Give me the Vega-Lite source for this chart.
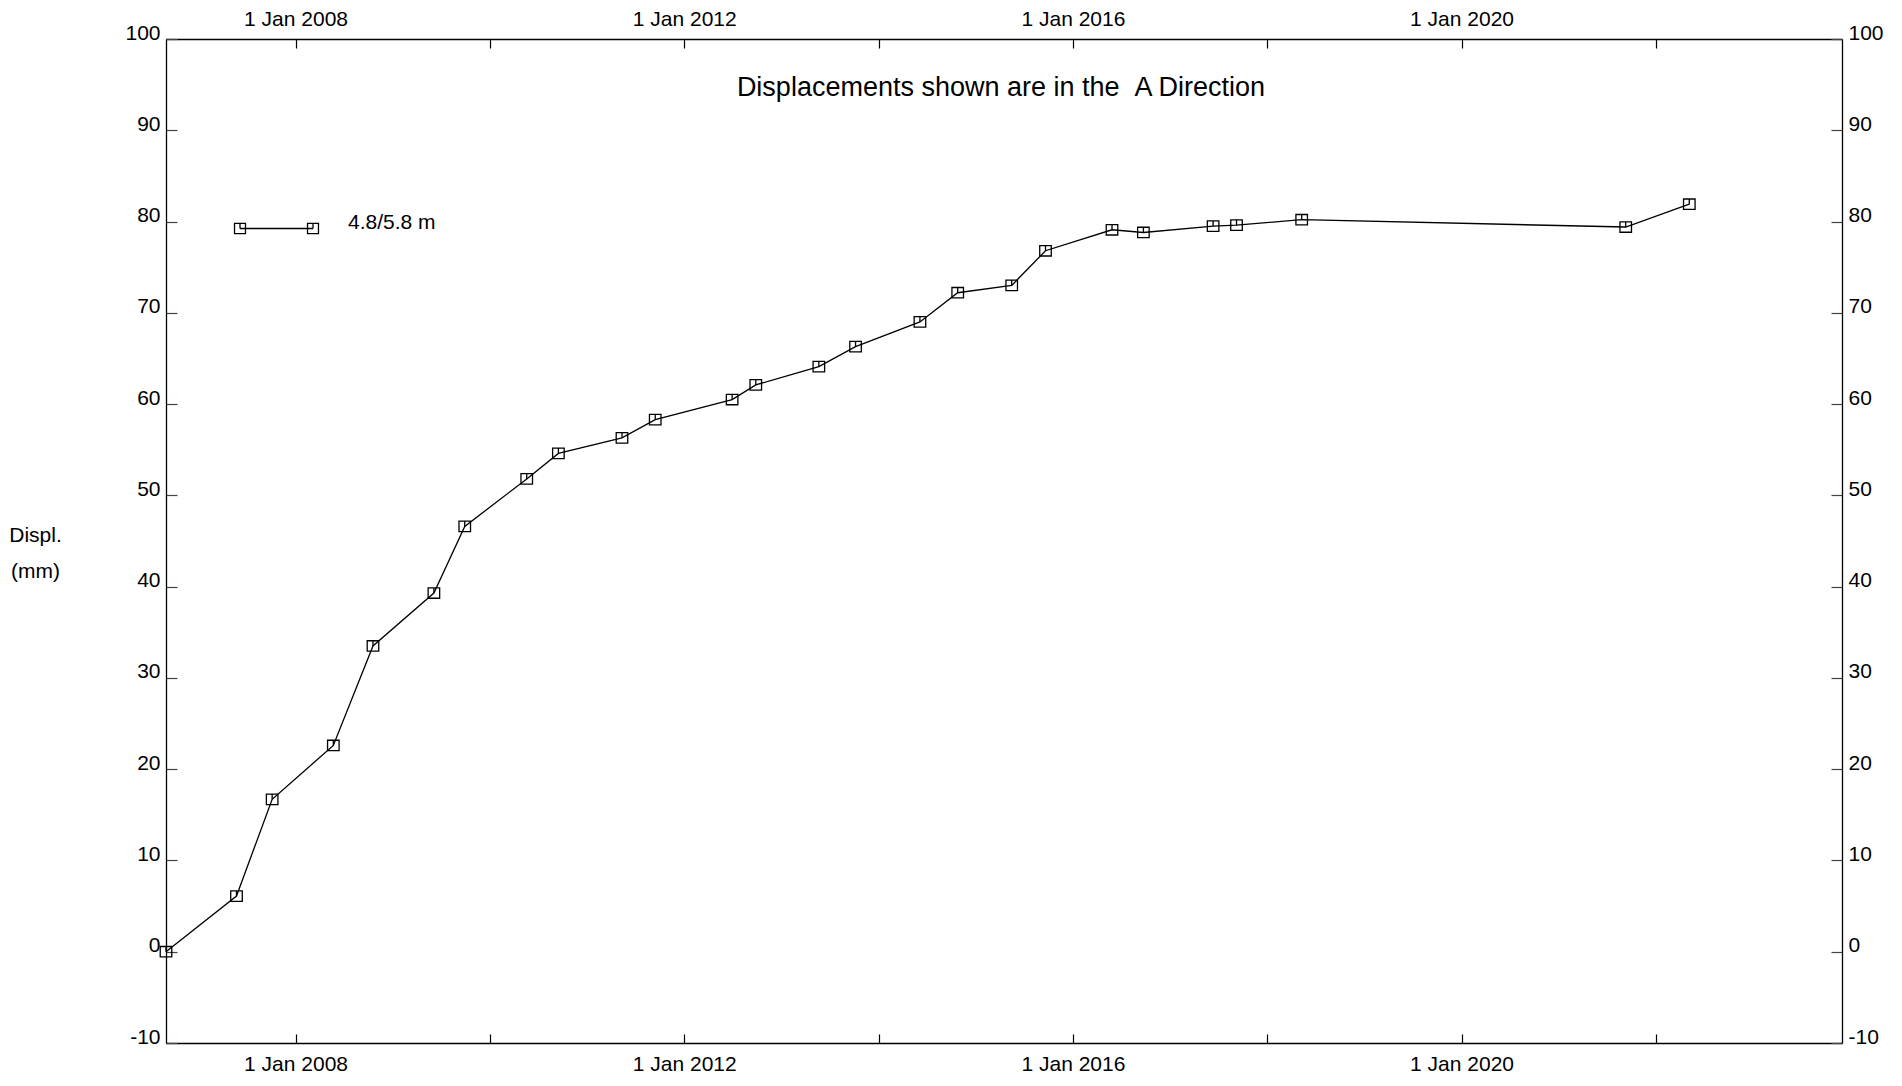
{
  "$schema": "https://vega.github.io/schema/vega-lite/v6.json",
  "width": 1676,
  "height": 1004,
  "autosize": {"type": "none"},
  "padding": {"left": 166, "top": 39, "right": 60, "bottom": 43},
  "background": "white",
  "title": {
    "text": "Displacements shown are in the \u00a0A Direction",
    "fontSize": 27,
    "font": "Liberation Sans",
    "fontWeight": "normal",
    "color": "black",
    "anchor": "middle",
    "baseline": "alphabetic",
    "offset": -115,
    "dx": -3
  },
  "data": {
    "values": [
      {"date": "2006-09-01", "disp": 0.0, "series": "4.8/5.8 m"},
      {"date": "2007-05-24", "disp": 6.1, "series": "4.8/5.8 m"},
      {"date": "2007-10-05", "disp": 16.7, "series": "4.8/5.8 m"},
      {"date": "2008-05-22", "disp": 22.6, "series": "4.8/5.8 m"},
      {"date": "2008-10-18", "disp": 33.5, "series": "4.8/5.8 m"},
      {"date": "2009-06-04", "disp": 39.3, "series": "4.8/5.8 m"},
      {"date": "2009-09-28", "disp": 46.6, "series": "4.8/5.8 m"},
      {"date": "2010-05-19", "disp": 51.8, "series": "4.8/5.8 m"},
      {"date": "2010-09-15", "disp": 54.6, "series": "4.8/5.8 m"},
      {"date": "2011-05-12", "disp": 56.3, "series": "4.8/5.8 m"},
      {"date": "2011-09-14", "disp": 58.3, "series": "4.8/5.8 m"},
      {"date": "2012-06-29", "disp": 60.5, "series": "4.8/5.8 m"},
      {"date": "2012-09-26", "disp": 62.1, "series": "4.8/5.8 m"},
      {"date": "2013-05-21", "disp": 64.1, "series": "4.8/5.8 m"},
      {"date": "2013-10-06", "disp": 66.3, "series": "4.8/5.8 m"},
      {"date": "2014-06-05", "disp": 69.0, "series": "4.8/5.8 m"},
      {"date": "2014-10-25", "disp": 72.2, "series": "4.8/5.8 m"},
      {"date": "2015-05-16", "disp": 73.0, "series": "4.8/5.8 m"},
      {"date": "2015-09-20", "disp": 76.8, "series": "4.8/5.8 m"},
      {"date": "2016-05-27", "disp": 79.1, "series": "4.8/5.8 m"},
      {"date": "2016-09-22", "disp": 78.8, "series": "4.8/5.8 m"},
      {"date": "2017-06-11", "disp": 79.5, "series": "4.8/5.8 m"},
      {"date": "2017-09-07", "disp": 79.6, "series": "4.8/5.8 m"},
      {"date": "2018-05-10", "disp": 80.2, "series": "4.8/5.8 m"},
      {"date": "2021-09-09", "disp": 79.4, "series": "4.8/5.8 m"},
      {"date": "2022-05-06", "disp": 81.9, "series": "4.8/5.8 m"}
    ]
  },
  "layer": [
    {
      "mark": {"type": "line", "color": "black", "strokeWidth": 1.3},
      "encoding": {
        "x": {
          "field": "date",
          "type": "temporal",
          "scale": {"domain": ["2006-09-01", "2023-12-01"], "nice": false},
          "axis": {
            "orient": "bottom",
            "title": null,
            "values": [
              {"year": 2008, "month": 1, "date": 1},
              {"year": 2010, "month": 1, "date": 1},
              {"year": 2012, "month": 1, "date": 1},
              {"year": 2014, "month": 1, "date": 1},
              {"year": 2016, "month": 1, "date": 1},
              {"year": 2018, "month": 1, "date": 1},
              {"year": 2020, "month": 1, "date": 1},
              {"year": 2022, "month": 1, "date": 1}
            ],
            "format": "%-d %b %Y",
            "labelExpr": "year(datum.value) % 4 == 0 ? datum.label : ''",
            "tickSize": -9,
            "labelPadding": 36,
            "labelBaseline": "alphabetic",
            "labelAngle": 0
          }
        },
        "y": {
          "field": "disp",
          "type": "quantitative",
          "scale": {"domain": [-10, 100], "nice": false, "zero": false},
          "axis": {
            "orient": "left",
            "values": [-10, 0, 10, 20, 30, 40, 50, 60, 70, 80, 90, 100],
            "labelExpr": "toString(datum.value)",
            "tickSize": -11,
            "tickColor": "#444",
            "labelPadding": 17,
            "labelBaseline": "alphabetic",
            "labelOffset": 0,
            "title": ["Displ.", "(mm)"],
            "titleAngle": 0,
            "titleX": -131,
            "titleY": 502,
            "titleAlign": "center",
            "titleBaseline": "alphabetic",
            "titleFontSize": 21,
            "titleFontWeight": "normal",
            "titleLineHeight": 36,
            "titleColor": "black"
          }
        }
      }
    },
    {
      "mark": {
        "type": "point",
        "filled": false,
        "shape": "M-1.05,-0.95H1.05V0.95H-1.05ZM0,-0.95V0",
        "size": 121,
        "strokeWidth": 1.3,
        "opacity": 1
      },
      "encoding": {
        "x": {
          "field": "date",
          "type": "temporal",
          "axis": {
            "orient": "top",
            "title": null,
            "values": [
              {"year": 2008, "month": 1, "date": 1},
              {"year": 2010, "month": 1, "date": 1},
              {"year": 2012, "month": 1, "date": 1},
              {"year": 2014, "month": 1, "date": 1},
              {"year": 2016, "month": 1, "date": 1},
              {"year": 2018, "month": 1, "date": 1},
              {"year": 2020, "month": 1, "date": 1},
              {"year": 2022, "month": 1, "date": 1}
            ],
            "format": "%-d %b %Y",
            "labelExpr": "year(datum.value) % 4 == 0 ? datum.label : ''",
            "tickSize": -9,
            "labelPadding": 23,
            "labelBaseline": "alphabetic",
            "labelAngle": 0
          }
        },
        "y": {
          "field": "disp",
          "type": "quantitative",
          "axis": {
            "orient": "right",
            "title": null,
            "values": [-10, 0, 10, 20, 30, 40, 50, 60, 70, 80, 90, 100],
            "labelExpr": "toString(datum.value)",
            "tickSize": -11,
            "tickColor": "#444",
            "labelPadding": 17,
            "labelBaseline": "alphabetic",
            "labelOffset": 0
          }
        },
        "color": {
          "field": "series",
          "type": "nominal",
          "scale": {"range": ["black"]},
          "legend": {
            "orient": "none",
            "legendX": 73,
            "legendY": 152,
            "title": null,
            "padding": 0,
            "symbolType": "M-1,0H1M-1.15,-0.14H-0.85V0.14H-1.15ZM-1,-0.14V0M0.85,-0.14H1.15V0.14H0.85ZM1,-0.14V0",
            "symbolSize": 5329,
            "symbolStrokeWidth": 1.3,
            "symbolStrokeColor": "black",
            "symbolFillColor": "transparent",
            "symbolOpacity": 1,
            "labelFontSize": 21,
            "labelOffset": 34,
            "labelBaseline": "alphabetic",
            "labelColor": "black"
          }
        }
      }
    }
  ],
  "resolve": {"axis": {"x": "independent", "y": "independent"}},
  "config": {
    "font": "Liberation Sans",
    "view": {"stroke": null},
    "axis": {
      "grid": false,
      "domainColor": "black",
      "domainWidth": 1.3,
      "tickColor": "black",
      "tickWidth": 1.2,
      "labelFontSize": 21,
      "labelColor": "black",
      "labelFont": "Liberation Sans",
      "labelFlush": false,
      "labelOverlap": false,
      "labelBound": false
    },
    "legend": {"labelFont": "Liberation Sans"}
  }
}
